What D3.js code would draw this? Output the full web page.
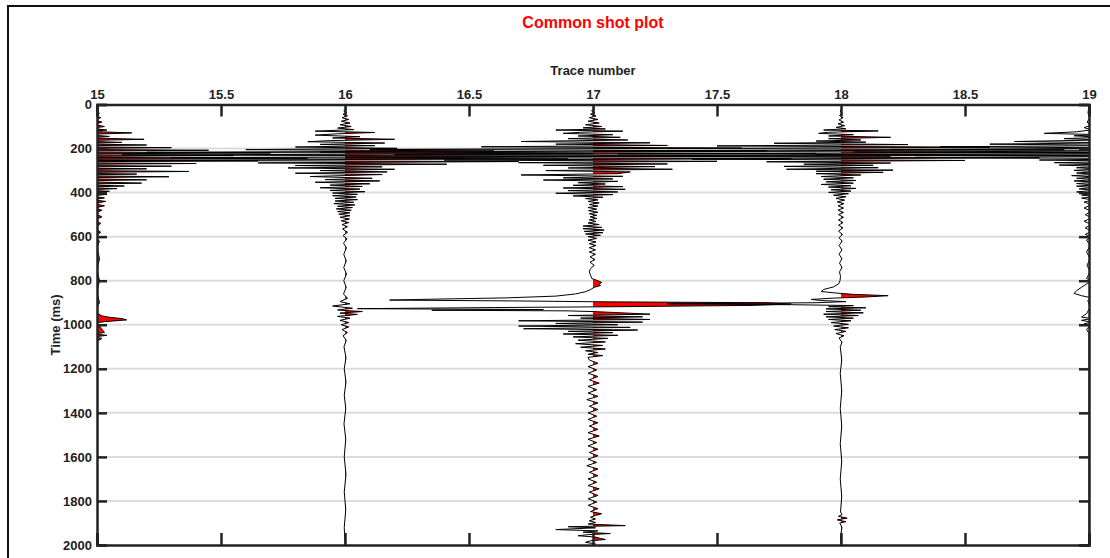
<!DOCTYPE html>
<html>
<head>
<meta charset="utf-8">
<script src="https://cdn.jsdelivr.net/npm/d3@7"></script>
<style>
  body { margin: 0; background: #fff; }
  text { font-family: "Liberation Sans", Arial, sans-serif; }
</style>
</head>
<body>
<div id="svgBody"></div>
<script>
// trace numbers and axis ticks
var traceNumbers = [15, 16, 17, 18, 19];
var xTicks = [15, 15.5, 16, 16.5, 17, 17.5, 18, 18.5, 19];
var yTicks = [0, 200, 400, 600, 800, 1000, 1200, 1400, 1600, 1800, 2000];

// [time ms, amplitude in trace widths]
var trace15 = [[0,0],[20,0.005],[30,-0.005],[40,0.01],[50,-0.01],[60,0.015],[70,-0.01],[80,0.02],[90,-0.015],[100,0.03],[108,-0.02],[116,0.04],[122,-0.03],[129,0.14],[136,-0.05],[145,0.05],[152,-0.04],[158,0.19],[165,-0.1],[172,0.1],[178,-0.1],[184,0.2],[190,-0.3],[196,0.3],[202,-0.4],[208,0.45],[214,-0.5],[220,0.7],[226,-0.5],[232,0.55],[238,-0.5],[244,0.85],[250,-0.5],[256,0.65],[262,-0.5],[268,0.4],[274,-0.4],[280,0.3],[286,-0.3],[292,0.2],[298,-0.3],[304,0.37],[310,-0.25],[316,0.16],[322,-0.2],[328,0.29],[334,-0.2],[342,0.2],[348,-0.15],[357,0.18],[363,-0.12],[370,0.11],[376,-0.08],[382,0.08],[388,-0.06],[394,0.05],[400,-0.04],[408,0.04],[416,-0.03],[424,0.03],[432,-0.02],[440,0.035],[450,-0.015],[460,0.03],[470,-0.01],[480,0.02],[495,-0.01],[510,0.02],[525,-0.01],[540,0.015],[560,-0.01],[580,0.015],[600,-0.01],[620,0.01],[650,0],[700,0.01],[750,0],[800,0.01],[850,0],[900,0.01],[940,-0.01],[960,0.02],[966,0.05],[972,0.1],[978,0.12],[986,0.03],[994,-0.02],[1005,0.01],[1020,0.02],[1035,0.03],[1042,-0.01],[1048,0.04],[1055,-0.01],[1062,0.02],[1075,0],[2000,0]];

var trace16 = [[0,0],[20,0.005],[28,-0.005],[36,0.008],[44,-0.008],[52,0.01],[60,-0.012],[68,0.015],[76,-0.015],[84,0.02],[92,-0.02],[100,0.025],[107,-0.03],[114,0.035],[121,-0.12],[127,0.12],[133,-0.03],[139,-0.12],[146,0.06],[152,-0.05],[158,0.2],[164,-0.06],[169,-0.15],[175,0.16],[181,-0.1],[187,0.12],[193,-0.2],[199,0.21],[205,-0.4],[211,0.6],[217,-0.8],[223,1.0],[229,-0.9],[235,1.1],[241,-0.7],[247,0.9],[253,-1.0],[259,0.7],[265,-0.35],[271,0.41],[277,-0.2],[283,0.15],[288,-0.23],[294,0.2],[300,-0.1],[306,0.17],[312,-0.2],[318,0.15],[327,-0.14],[335,0.11],[341,-0.08],[347,0.14],[353,-0.12],[360,0.1],[366,-0.06],[372,0.07],[378,-0.1],[384,0.06],[390,-0.06],[396,0.08],[402,-0.05],[408,0.05],[414,-0.05],[420,0.045],[426,-0.04],[432,0.05],[438,-0.04],[444,0.035],[450,-0.045],[456,0.04],[462,-0.03],[468,0.03],[474,-0.035],[480,0.025],[486,-0.03],[492,0.02],[498,-0.025],[505,0.02],[512,-0.02],[520,0.018],[528,-0.015],[536,0.015],[545,-0.012],[555,0.01],[565,-0.01],[580,0.01],[595,-0.008],[610,0.008],[630,-0.006],[650,0.006],[680,-0.005],[710,0.005],[740,-0.005],[770,0.006],[800,-0.005],[830,0.005],[860,-0.006],[880,0.01],[895,-0.02],[905,0.02],[915,-0.05],[925,0.03],[933,-0.03],[940,0.07],[947,-0.02],[953,0.05],[962,-0.03],[970,0.02],[980,-0.02],[990,0.015],[1000,-0.015],[1010,0.015],[1022,-0.012],[1035,0.01],[1050,-0.008],[1070,0.005],[1100,-0.004],[1150,0.004],[1200,-0.003],[1260,0.004],[1320,-0.003],[1380,0.003],[1450,-0.004],[1520,0.003],[1600,-0.003],[1680,0.004],[1760,-0.003],[1840,0.003],[1920,-0.003],[2000,0]];

var trace17 = [[0,0],[20,0.005],[28,-0.006],[36,0.008],[44,-0.01],[52,0.012],[60,-0.015],[68,0.02],[76,-0.02],[84,0.025],[92,-0.03],[100,0.035],[106,-0.04],[111,0.05],[116,-0.15],[121,0.12],[126,-0.05],[131,-0.12],[137,0.08],[143,-0.06],[149,0.11],[155,-0.1],[161,0.14],[168,-0.29],[174,0.23],[180,-0.15],[186,0.3],[192,-0.45],[198,0.6],[204,-0.9],[210,0.7],[216,-1.1],[222,0.9],[228,-0.8],[234,1.2],[240,-1.0],[246,0.8],[252,-0.6],[258,0.5],[264,-0.3],[270,0.3],[276,-0.2],[282,0.25],[288,-0.1],[294,0.32],[300,-0.19],[306,0.15],[314,0.1],[320,-0.29],[326,0.12],[333,-0.12],[338,0.08],[343,-0.2],[349,0.1],[355,-0.06],[361,0.05],[367,-0.08],[373,0.12],[379,-0.12],[385,0.13],[391,-0.1],[397,0.1],[403,-0.15],[409,0.08],[415,-0.08],[421,0.04],[427,-0.03],[433,0.02],[440,-0.02],[447,0.025],[454,-0.015],[461,0.02],[468,-0.02],[475,0.015],[482,-0.018],[489,0.02],[496,-0.015],[503,0.015],[510,-0.012],[517,0.015],[524,-0.015],[531,0.012],[538,-0.02],[545,0.025],[552,-0.04],[558,0.035],[564,-0.04],[570,0.045],[576,-0.035],[582,0.04],[588,-0.03],[594,0.03],[600,-0.02],[608,0.015],[616,-0.02],[624,0.012],[632,-0.015],[640,0.012],[650,-0.015],[660,0.01],[670,-0.015],[680,0.01],[692,-0.012],[704,0.008],[716,-0.012],[730,0.005],[745,-0.01],[760,-0.015],[775,-0.01],[790,-0.005],[800,0.02],[808,0.035],[815,0.025],[822,0.03],[830,0.005],[840,-0.01],[850,-0.03],[860,-0.07],[870,-0.15],[878,-0.35],[884,-0.65],[888,-0.82],[892,-0.3],[896,0.05],[900,0.7],[906,0.8],[912,0.65],[918,0.1],[922,-0.4],[927,-0.95],[931,-0.2],[934,-0.65],[937,-0.1],[941,0.02],[945,0.1],[952,0.23],[958,-0.1],[964,0.2],[970,-0.05],[976,0.23],[982,-0.3],[988,0.2],[994,-0.15],[1000,0.1],[1006,-0.3],[1012,0.15],[1018,-0.28],[1024,0.18],[1030,-0.1],[1036,0.08],[1042,-0.12],[1048,0.1],[1055,-0.08],[1062,0.06],[1070,-0.06],[1078,0.05],[1086,-0.07],[1094,0.04],[1102,-0.05],[1110,0.05],[1118,-0.03],[1126,0.02],[1134,-0.02],[1140,0.04],[1148,-0.02],[1160,-0.015],[1175,0.02],[1190,-0.02],[1205,0.015],[1220,-0.02],[1235,0.02],[1250,-0.015],[1265,0.025],[1280,-0.02],[1295,0.015],[1310,-0.02],[1325,0.02],[1340,-0.025],[1355,0.02],[1370,-0.015],[1385,0.02],[1400,-0.02],[1415,0.015],[1430,-0.02],[1445,0.02],[1460,-0.015],[1475,0.02],[1490,-0.02],[1505,0.025],[1520,-0.02],[1535,0.015],[1550,-0.02],[1565,0.02],[1580,-0.015],[1595,0.02],[1610,-0.02],[1625,0.015],[1640,-0.025],[1655,0.02],[1670,-0.015],[1685,0.02],[1700,-0.02],[1715,0.015],[1730,-0.02],[1745,0.025],[1760,-0.015],[1775,0.02],[1790,-0.02],[1805,0.015],[1820,-0.02],[1835,0.02],[1848,-0.01],[1858,0.035],[1866,0.01],[1874,-0.01],[1882,0.01],[1890,-0.015],[1898,0.01],[1905,-0.02],[1912,0.13],[1917,-0.1],[1922,0.01],[1930,-0.15],[1936,0.02],[1942,-0.04],[1948,0.07],[1953,-0.02],[1958,-0.06],[1964,0.01],[1970,0.03],[1975,0.05],[1981,-0.01],[1988,-0.03],[1995,0.01],[2000,0]];

var trace18 = [[0,0],[20,0.004],[30,-0.004],[40,0.006],[50,-0.006],[60,0.008],[70,-0.008],[80,0.01],[88,-0.012],[96,0.015],[104,-0.02],[110,0.02],[116,-0.07],[120,0.15],[126,-0.05],[131,-0.09],[137,0.05],[143,-0.05],[149,0.2],[155,-0.05],[161,0.08],[166,-0.1],[171,0.1],[176,-0.27],[182,0.27],[188,-0.5],[194,0.6],[200,-0.7],[206,0.9],[212,-1.0],[218,1.1],[224,-0.9],[230,1.0],[236,-1.1],[242,0.8],[248,-0.6],[254,0.5],[260,-0.3],[266,0.2],[271,-0.15],[276,0.13],[281,-0.23],[287,0.15],[294,-0.22],[298,0.21],[303,-0.1],[308,0.17],[314,-0.1],[320,0.08],[327,-0.08],[333,0.05],[339,-0.07],[345,0.06],[351,-0.06],[357,0.05],[363,-0.08],[369,0.04],[375,-0.05],[381,0.06],[387,-0.04],[393,0.04],[399,-0.05],[405,0.03],[412,-0.03],[419,0.02],[426,-0.02],[434,0.015],[442,-0.015],[450,0.012],[460,-0.012],[470,0.01],[480,-0.012],[490,0.01],[500,-0.01],[512,0.01],[524,-0.01],[536,0.008],[548,-0.01],[560,0.008],[575,-0.01],[590,0.006],[605,-0.008],[620,0.005],[640,-0.008],[660,0.004],[680,-0.008],[700,0.004],[720,-0.006],[740,0.004],[760,-0.006],[780,-0.002],[800,-0.004],[815,-0.01],[828,-0.03],[840,-0.07],[849,-0.08],[856,-0.02],[862,0.05],[868,0.19],[874,0.1],[879,-0.03],[885,-0.12],[890,-0.08],[895,0.02],[900,-0.1],[905,-0.7],[909,-0.2],[913,0.05],[918,-0.05],[923,0.1],[928,-0.06],[934,0.08],[940,-0.06],[946,0.09],[952,-0.07],[958,0.07],[964,-0.06],[970,0.05],[976,-0.05],[982,0.04],[990,-0.04],[998,0.03],[1006,-0.03],[1014,0.03],[1022,-0.025],[1030,0.02],[1040,-0.02],[1050,0.012],[1060,-0.008],[1080,0.004],[1100,-0.003],[1160,0.003],[1220,-0.003],[1300,0.003],[1380,-0.003],[1460,0.003],[1540,-0.003],[1620,0.003],[1700,-0.003],[1780,0.003],[1850,-0.002],[1862,0.004],[1870,-0.01],[1878,0.025],[1886,-0.015],[1894,0.02],[1900,-0.005],[1920,0.004],[1960,-0.002],[2000,0]];

var trace19 = [[0,0],[40,-0.004],[60,0.004],[80,-0.008],[95,0.006],[105,-0.02],[115,0.01],[124,-0.05],[131,-0.18],[137,0.05],[142,-0.06],[149,0.05],[155,-0.1],[161,0.06],[168,-0.3],[174,0.1],[180,-0.4],[186,0.2],[192,-0.6],[198,0.3],[204,-0.8],[210,0.4],[216,-0.95],[222,0.4],[228,-1.1],[234,0.5],[240,-0.7],[246,0.3],[252,-0.2],[258,0.2],[264,-0.14],[270,0.1],[275,-0.12],[281,0.05],[287,-0.05],[293,0.04],[299,-0.06],[305,0.03],[311,-0.05],[317,0.03],[323,-0.07],[329,0.03],[335,-0.05],[341,0.03],[347,-0.06],[353,0.03],[359,-0.05],[365,0.02],[371,-0.05],[377,0.02],[383,-0.04],[390,0.02],[397,-0.05],[404,0.02],[411,-0.03],[418,0.02],[425,-0.03],[434,0.015],[443,-0.02],[455,0.01],[470,-0.02],[485,0.01],[500,-0.015],[515,0.01],[530,-0.02],[545,0.01],[560,-0.015],[575,0.01],[590,-0.015],[600,0.01],[615,-0.01],[640,0.005],[670,-0.01],[700,0.005],[730,-0.008],[760,0.005],[790,-0.01],[800,0.01],[815,-0.01],[830,-0.03],[845,-0.05],[858,-0.06],[868,-0.03],[878,0.01],[890,-0.005],[920,0.005],[950,-0.01],[965,-0.03],[972,0.01],[980,-0.03],[988,0.01],[996,-0.02],[1005,0.005],[1020,-0.01],[1040,0],[2000,0]];

var traces = [trace15, trace16, trace17, trace18, trace19];

var W = 1110, H = 558;
var margin = {top: 104.5, right: 21, bottom: 13, left: 97};
var width = W - margin.left - margin.right,
    height = H - margin.top - margin.bottom;

var svg = d3.select("#svgBody")
    .append("svg")
    .attr("width", W)
    .attr("height", H);

// outer frame
svg.append("rect")
    .attr("x", 8).attr("y", 6)
    .attr("width", 1200).attr("height", 700)
    .attr("fill", "none")
    .attr("stroke", "#111")
    .attr("stroke-width", 2);

var x = d3.scaleLinear().domain([15, 19]).range([margin.left, margin.left + width]);
var y = d3.scaleLinear().domain([0, 2000]).range([margin.top, margin.top + height]);

var defs = svg.append("defs");
defs.append("clipPath").attr("id", "plotClip")
    .append("rect")
    .attr("x", x(15)).attr("y", y(0))
    .attr("width", x(19) - x(15)).attr("height", y(2000) - y(0));

// gridlines
svg.append("g")
    .selectAll("line")
    .data(yTicks.slice(1, -1))
    .enter()
    .append("line")
    .attr("x1", x(15)).attr("x2", x(19))
    .attr("y1", function(d) { return y(d); })
    .attr("y2", function(d) { return y(d); })
    .attr("stroke", "#dcdcdc")
    .attr("stroke-width", 2);

var plot = svg.append("g").attr("clip-path", "url(#plotClip)");

traces.forEach(function(tr, i) {
    var n = traceNumbers[i];
    // positive side clip for variable-area fill
    defs.append("clipPath").attr("id", "pos" + i)
        .append("rect")
        .attr("x", x(n)).attr("y", y(0))
        .attr("width", x(19) - x(15) + 300).attr("height", y(2000) - y(0));

    var area = d3.area()
        .y(function(d) { return y(d[0]); })
        .x0(x(n))
        .x1(function(d) { return x(n + d[1]); });

    var line = d3.line()
        .y(function(d) { return y(d[0]); })
        .x(function(d) { return x(n + d[1]); });

    plot.append("path")
        .datum(tr)
        .attr("clip-path", "url(#pos" + i + ")")
        .attr("d", area)
        .attr("fill", "#ff0000");

    plot.append("path")
        .datum(tr)
        .attr("d", line)
        .attr("fill", "none")
        .attr("stroke", "#000")
        .attr("stroke-width", 1);
});

// axes
var axisColor = "#222";
var fmt = d3.format("");

var topAxis = svg.append("g")
    .attr("transform", "translate(0," + y(0) + ")")
    .call(d3.axisTop(x).tickValues(xTicks).tickFormat(fmt).tickSize(-12).tickPadding(6));
var bottomAxis = svg.append("g")
    .attr("transform", "translate(0," + y(2000) + ")")
    .call(d3.axisBottom(x).tickValues(xTicks).tickFormat("").tickSize(-12));
var leftAxis = svg.append("g")
    .attr("transform", "translate(" + x(15) + ",0)")
    .call(d3.axisLeft(y).tickValues(yTicks).tickFormat(fmt).tickSize(-10).tickPadding(5));
var rightAxis = svg.append("g")
    .attr("transform", "translate(" + x(19) + ",0)")
    .call(d3.axisRight(y).tickValues(yTicks).tickFormat("").tickSize(-10));

[topAxis, bottomAxis, leftAxis, rightAxis].forEach(function(a) {
    a.select(".domain").attr("stroke", axisColor).attr("stroke-width", 2.5);
    a.selectAll(".tick line").attr("stroke", axisColor).attr("stroke-width", 2.5);
    a.selectAll(".tick text")
        .attr("fill", "#222")
        .attr("font-size", "13px")
        .attr("font-weight", "bold")
        .attr("font-family", "Liberation Sans, Arial, sans-serif");
});

// title
svg.append("text")
    .attr("x", 593).attr("y", 28)
    .style("text-anchor", "middle")
    .attr("fill", "#ff0000")
    .attr("font-size", "16px")
    .attr("font-weight", "bold")
    .text("Common shot plot");

// x axis label
svg.append("text")
    .attr("x", 593).attr("y", 75)
    .style("text-anchor", "middle")
    .attr("fill", "#222")
    .attr("font-size", "13px")
    .attr("font-weight", "bold")
    .text("Trace number");

// y axis label
svg.append("text")
    .attr("transform", "translate(60," + 325 + ") rotate(-90)")
    .style("text-anchor", "middle")
    .attr("fill", "#222")
    .attr("font-size", "13px")
    .attr("font-weight", "bold")
    .text("Time (ms)");
</script>
</body>
</html>
